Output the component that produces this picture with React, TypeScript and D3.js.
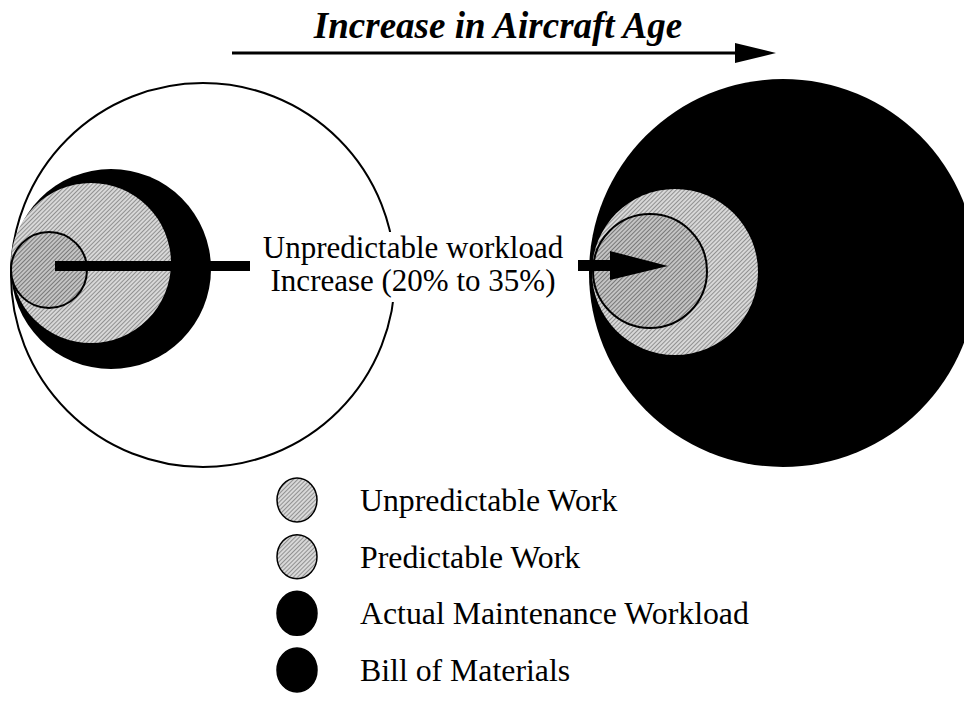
import React from "react";
import * as d3 from "d3";

// legend entries, top to bottom
const legendLabels = ["Unpredictable Work", "Predictable Work", "Actual Maintenance Workload", "Bill of Materials"];
const legendKinds = ["hatch", "hatch", "solid", "solid"];

// relative circle sizes (radius units) for the young aircraft
const youngSizes = [38, 80, 100, 192]; // unpredictable, predictable, actual workload, bill of materials
// ...and for the old aircraft
const oldSizes = [57, 83, 194]; // unpredictable, predictable, actual workload

const titleText = "Increase in Aircraft Age";
const midLines = ["Unpredictable workload", "Increase (20% to 35%)"];

const W = 964;
const H = 702;
const FONT = "'Liberation Serif', 'Times New Roman', serif";

export default function App() {
  const r = d3.scaleLinear().domain([0, 200]).range([0, 200]);

  // left group: all circles touch at the left edge
  const leftX = 11;
  const yMid = 270;
  const young = youngSizes.map((s) => ({ r: r(s), cx: leftX + r(s) }));
  const yOffsets = [0, -7, -1, 5];

  // right group
  const oldBlack = { cx: 783, cy: 273, r: r(oldSizes[2]) };
  const oldGray = { cx: 592 + r(oldSizes[1]), cy: 272, r: r(oldSizes[1]) };
  const oldRing = { cx: 593 + r(oldSizes[0]), cy: 271, r: r(oldSizes[0]) };

  const legendY = d3.scalePoint<string>().domain(legendLabels).range([500, 670]);

  return (
    <svg width={W} height={H} style={{ position: "absolute", left: 0, top: 0, background: "#fff" }}>
      <defs>
        <pattern id="hatch" width="3" height="3" patternUnits="userSpaceOnUse" patternTransform="rotate(45)">
          <rect width="3" height="3" fill="#d8d8d8" />
          <line x1="0" y1="0" x2="0" y2="3" stroke="#555" strokeWidth="1.1" />
        </pattern>
        <pattern id="hatch2" width="3" height="3" patternUnits="userSpaceOnUse" patternTransform="rotate(45)">
          <rect width="3" height="3" fill="#c4c4c4" />
          <line x1="0" y1="0" x2="0" y2="3" stroke="#444" strokeWidth="1.2" />
        </pattern>
      </defs>

      {/* title + arrow */}
      <text x={498} y={38} textAnchor="middle" fontFamily={FONT} fontSize={37} fontWeight="bold" fontStyle="italic">
        {titleText}
      </text>
      <line x1={232} y1={53} x2={740} y2={53} stroke="#000" strokeWidth={3} />
      <path d="M735,43 L776,53 L735,63 Z" fill="#000" />

      {/* young aircraft */}
      <circle cx={young[3].cx} cy={yMid + yOffsets[3]} r={young[3].r} fill="#fff" stroke="#000" strokeWidth={2} />
      <circle cx={young[2].cx} cy={yMid + yOffsets[2]} r={young[2].r} fill="#000" />
      <circle cx={young[1].cx} cy={yMid + yOffsets[1]} r={young[1].r} fill="url(#hatch)" />
      <circle cx={young[0].cx} cy={yMid + yOffsets[0]} r={young[0].r} fill="url(#hatch2)" stroke="#000" strokeWidth={2} />
      <rect x={55} y={261} width={195} height={10} fill="#000" />

      {/* old aircraft (clipped by page edge) */}
      <circle cx={oldBlack.cx} cy={oldBlack.cy} r={oldBlack.r} fill="#000" />
      <circle cx={oldGray.cx} cy={oldGray.cy} r={oldGray.r} fill="url(#hatch)" />
      <circle cx={oldRing.cx} cy={oldRing.cy} r={oldRing.r} fill="url(#hatch2)" stroke="#000" strokeWidth={2} />
      <rect x={578} y={260} width={34} height={11} fill="#000" />
      <path d="M610,251 L668,266 L610,280 Z" fill="#000" />

      {/* middle label, hides the arc behind it */}
      <rect x={258} y={232} width={312} height={70} fill="#fff" />
      {midLines.map((t, i) => (
        <text key={t} x={413} y={258 + i * 33} textAnchor="middle" fontFamily={FONT} fontSize={31}>
          {t}
        </text>
      ))}

      {/* legend */}
      {legendLabels.map((lab, i) => {
        const cy = legendY(lab) as number;
        return (
          <g key={lab}>
            <ellipse
              cx={297}
              cy={cy}
              rx={20}
              ry={22}
              fill={legendKinds[i] === "hatch" ? "url(#hatch)" : "#000"}
              stroke="#000"
              strokeWidth={1.5}
            />
            <text x={360} y={cy + 11} fontFamily={FONT} fontSize={31.8}>
              {lab}
            </text>
          </g>
        );
      })}
    </svg>
  );
}
